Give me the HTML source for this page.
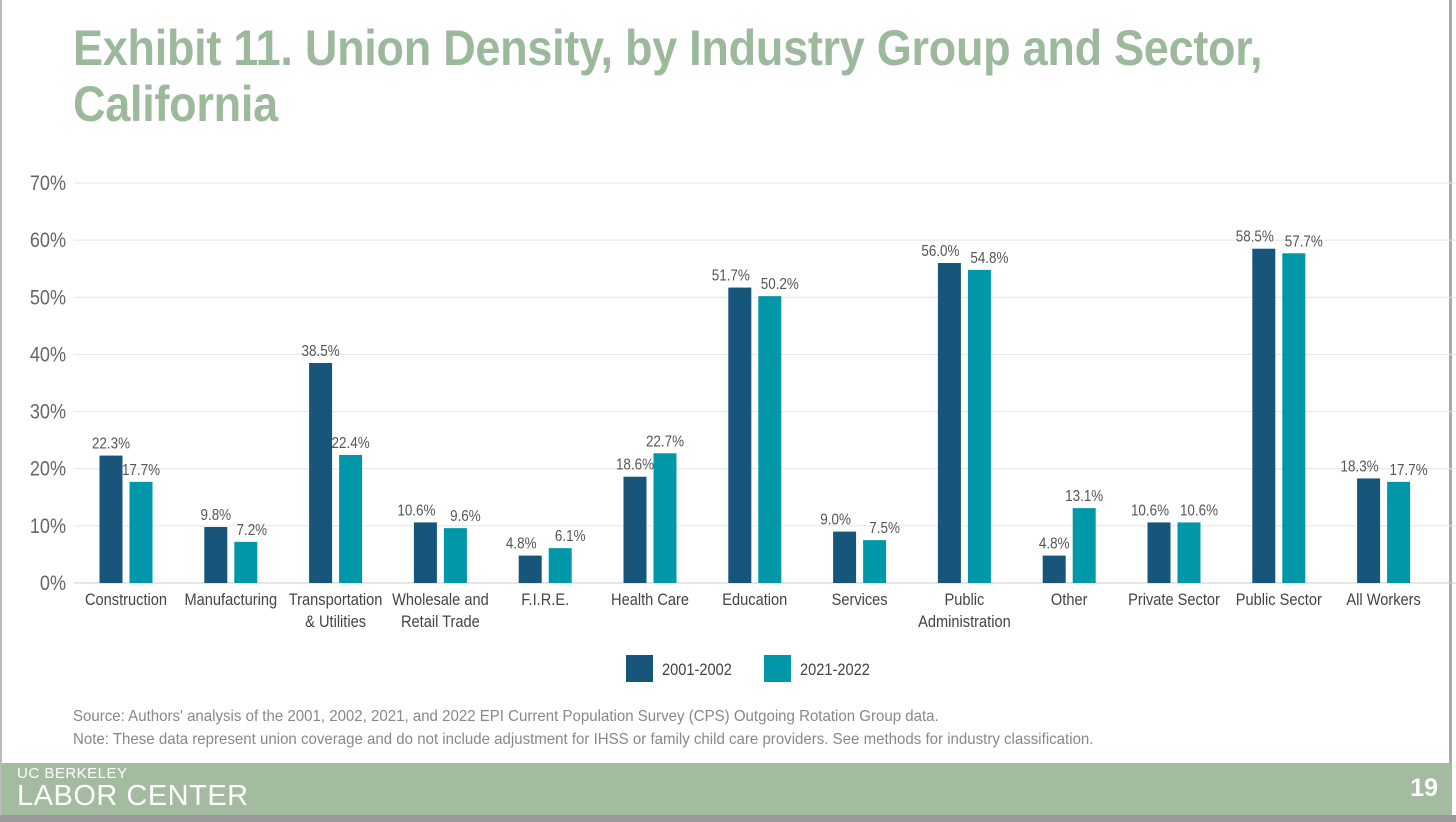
<!DOCTYPE html>
<html><head><meta charset="utf-8"><style>
body{margin:0;width:1456px;height:822px;overflow:hidden;background:#fff;font-family:"Liberation Sans",sans-serif;position:relative}
#frame{position:absolute;left:0;top:0;width:1452px;height:815px;border-left:2px solid #bbb;border-right:3px solid #aaa;box-sizing:border-box}
#title{position:absolute;left:73px;top:20px;font-size:50px;font-weight:bold;color:#9cba9b;line-height:56px;letter-spacing:-0.3px;transform:scaleX(0.9);transform-origin:0 0;white-space:nowrap}
#footer{position:absolute;left:2px;top:763px;width:1450px;height:52px;background:#a3bc9f}
#shadow{position:absolute;left:0;top:815px;width:1456px;height:7px;background:#999}
.note{position:absolute;left:73px;font-size:16px;color:#888;transform:scaleX(0.94);transform-origin:0 0;white-space:nowrap}
</style></head><body>
<div id="frame"></div>
<div id="title">Exhibit 11. Union Density, by Industry Group and Sector,<br>California</div>
<svg id="chart" width="1456" height="700" style="position:absolute;left:0;top:0"></svg>
<div class="note" style="top:708px">Source: Authors' analysis of the 2001, 2002, 2021, and 2022 EPI Current Population Survey (CPS) Outgoing Rotation Group data.</div>
<div class="note" style="top:731px">Note: These data represent union coverage and do not include adjustment for IHSS or family child care providers. See methods for industry classification.</div>
<div id="footer">
<div style="position:absolute;left:15px;top:2px;color:#fff;font-size:15px;letter-spacing:0.5px">UC BERKELEY</div>
<div style="position:absolute;left:15px;top:17px;color:#fff;font-size:29px;letter-spacing:0.5px">LABOR CENTER</div>
<div style="position:absolute;right:14px;top:11px;color:#fff;font-size:25px;font-weight:bold">19</div>
</div>
<div id="shadow"></div>
<script>
const categories=[["Construction"],["Manufacturing"],["Transportation","& Utilities"],["Wholesale and","Retail Trade"],["F.I.R.E."],["Health Care"],["Education"],["Services"],["Public","Administration"],["Other"],["Private Sector"],["Public Sector"],["All Workers"]];
const series2001=[22.3,9.8,38.5,10.6,4.8,18.6,51.7,9.0,56.0,4.8,10.6,58.5,18.3];
const series2021=[17.7,7.2,22.4,9.6,6.1,22.7,50.2,7.5,54.8,13.1,10.6,57.7,17.7];
const yTicks=[0,10,20,30,40,50,60,70];
const seriesNames=["2001-2002","2021-2022"];
const colors=["#17567a","#0097a8"];
const NS="http://www.w3.org/2000/svg";
const svg=document.getElementById('chart');
const x0=73.6,x1=1436,y0=583,yTop=183;
const band=(x1-x0)/categories.length;
const y=v=>y0-(v/70)*(y0-yTop);
const xc=i=>x0+band*(i+0.5);
function mk(t,a){const e=document.createElementNS(NS,t);for(const k in a)e.setAttribute(k,a[k]);svg.appendChild(e);return e;}
function txt(x,yy,s,size,anchor,fill,sx){const t=mk('text',{x:0,y:0,'text-anchor':anchor,'font-size':size,fill:fill,transform:`translate(${x},${yy}) scale(${sx},1)`});t.textContent=s;return t;}
yTicks.forEach(t=>{
 const l=mk('line',{x1:x0,x2:1456,y1:y(t),y2:y(t),stroke:t==0?'#ccc':'#e4e4e4','stroke-width':1});
 
 
 const tx=txt(66,y(t)+7,t+'%',21,'end','#666',0.86);
 
 
});
const bw=23,gap=7;
[series2001,series2021].forEach((s,si)=>{
 s.forEach((v,i)=>{
  const bx=xc(i)-bw-gap/2+si*(bw+gap);
  const r=mk('rect',{x:bx,y:y(v),width:bw,height:y0-y(v),fill:colors[si]});
  
  
  const d=Math.abs(series2001[i]-series2021[i]);
  let off=0;
  if(d<2.0) off=si?10:-9; else if(d<3.5) off=si?6:0;
  const t=txt(bx+bw/2+off,y(v)-7,v.toFixed(1)+'%',16,'middle','#555',0.84);
  
  
 });
});
categories.forEach((c,i)=>{
 c.forEach((ln,j)=>{
  const t=txt(xc(i),605+j*22,ln,17,'middle','#444',0.86);
  
  
 });
});
const lx=[626,764];
seriesNames.forEach((n,i)=>{
 const r=mk('rect',{x:lx[i],y:655,width:27,height:27,fill:colors[i]});
 
 
 const t=txt(lx[i]+36,675,n,17,'start','#444',0.86);
 
 
});
</script>
</body></html>
